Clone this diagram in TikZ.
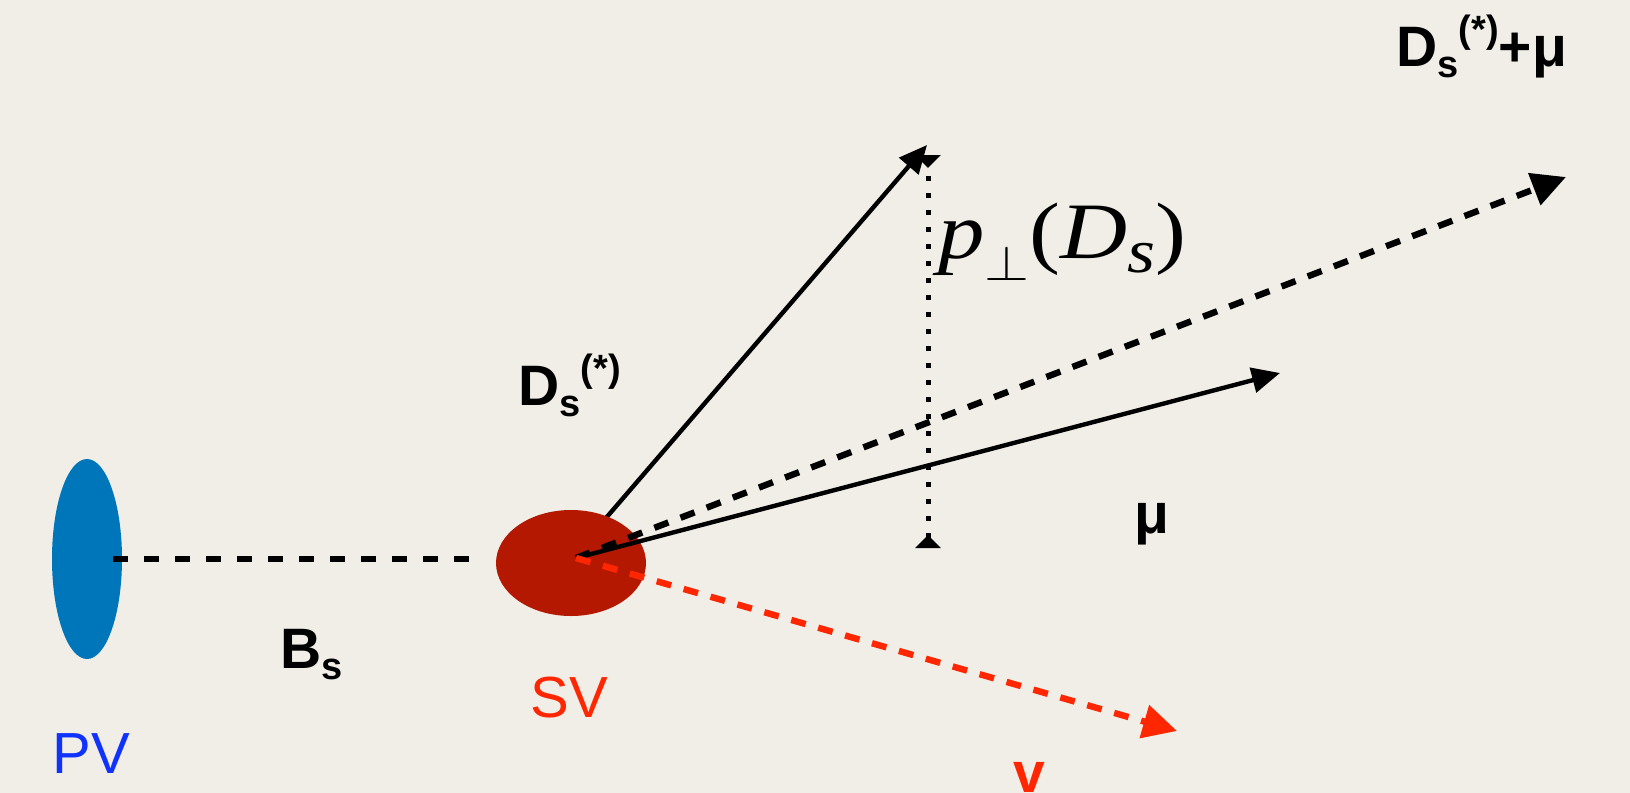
\documentclass[tikz,border=0pt]{standalone}
\usepackage{fontspec}
\setmainfont{Liberation Sans}
\newfontfamily\lserif{Liberation Serif}
\usetikzlibrary{arrows.meta,shapes.geometric}
\definecolor{paper}{RGB}{241,238,232}
\definecolor{pvblue}{RGB}{0,118,186}
\definecolor{svred}{RGB}{180,24,0}
\definecolor{txtblue}{RGB}{15,50,255}
\definecolor{brightred}{RGB}{255,38,0}
\newcommand\mysb[1]{\raisebox{-0.2em}{\fontsize{19}{19}\selectfont #1}}
\newcommand\mysp[1]{\raisebox{0.42em}{\fontsize{19}{19}\selectfont #1}}
\tikzset{
  lbl/.style={inner sep=0pt, anchor=base west, font=\fontsize{28.5}{28.5}\selectfont\bfseries},
  biglbl/.style={inner sep=0pt, anchor=base west, font=\fontsize{29}{29}\selectfont},
  solidarrow/.style={line width=2.2pt, -{Triangle[length=14pt,width=12.5pt]}},
  dasharrow/.style={line width=3.2pt, dash pattern=on 7.5pt off 6.5pt, -{Triangle[length=17pt,width=16.5pt]}},
  dotline/.style={line width=2.5pt, dash pattern=on 2.5pt off 6pt,
     {Triangle[reversed,length=6.5pt,width=12.5pt]}-{Triangle[reversed,length=6.5pt,width=12.5pt]}}
}
\begin{document}
\begin{tikzpicture}[x=0.5pt,y=-0.5pt]
\fill[paper] (0,0) rectangle (1630,793);
\useasboundingbox (0,0) rectangle (1630,793);
% points
\coordinate (V) at (576,558);
\coordinate (DsStart) at (606,518);
\coordinate (DsTip) at (927,145);
\coordinate (SumTip) at (1566,177);
\coordinate (MuTip) at (1280,373);
\coordinate (NuTip) at (1177,731);
\coordinate (BsL) at (113,559);
\coordinate (BsR) at (482,559);
\coordinate (PerpB) at (928,548);
\coordinate (PerpT) at (928,155);
% D_s arrow (under SV)
\draw[solidarrow] (DsStart) -- (DsTip);
% vertices
\node[ellipse, fill=pvblue, minimum width=35pt, minimum height=100pt, inner sep=0pt] (PV) at (87,559) {};
\node[ellipse, fill=svred, minimum width=75pt, minimum height=53pt, inner sep=0pt] (SV) at (571,563) {};
% B_s flight
\draw[line width=3.2pt, dash pattern=on 7.5pt off 8pt] (BsL) -- (BsR);
% other tracks
\draw[dasharrow] (V) -- (SumTip);
\draw[solidarrow] (V) -- (MuTip);
\draw[dasharrow, brightred] (V) -- (NuTip);
% perpendicular momentum
\draw[dotline] (PerpB) -- (PerpT);
% labels
\node[lbl] (lsum) at (1396,66) {D\mysb{s}\mysp{(*)}+μ};
\node[lbl] (lds) at (518,405) {D\mysb{s}\mysp{(*)}};
\node[lbl] (lbs) at (280,668) {B\mysb{s}};
\node[lbl] (lmu) at (1134,533) {μ};
\node[lbl, text=brightred] (lnu) at (1013,792) {v};
\node[biglbl, text=txtblue] (lpv) at (52,773) {PV};
\node[biglbl, text=brightred] (lsv) at (530,717) {SV};
\node[inner sep=0pt, anchor=base west, font=\fontsize{40}{40}\selectfont\lserif] (lperp) at (938,258)
  {\scalebox{1.16}[1]{\textit{p}\raisebox{-11pt}{\fontsize{34}{34}\selectfont$\perp$}(\textit{D}\raisebox{-7pt}{\fontsize{31}{31}\selectfont\textit{s}})}};
\end{tikzpicture}
\end{document}
